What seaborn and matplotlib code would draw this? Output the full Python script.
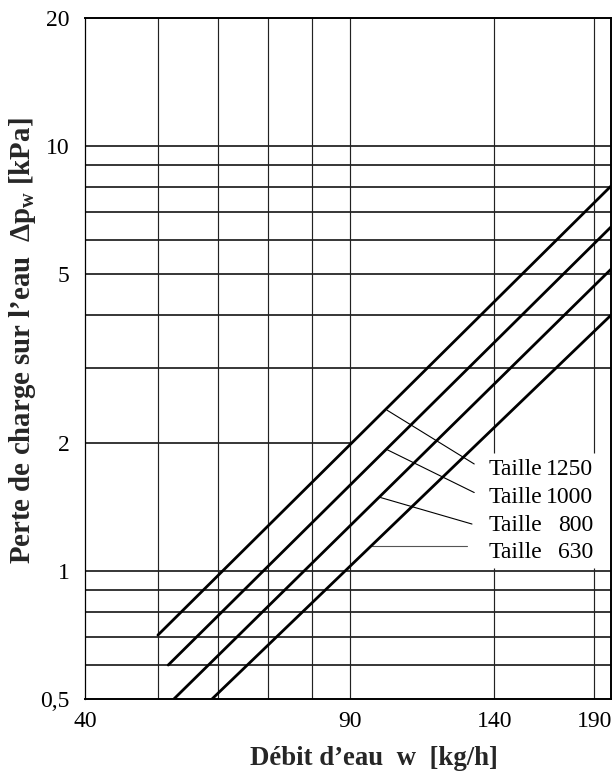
import numpy as np
import pandas as pd
import matplotlib
matplotlib.use("Agg")
import matplotlib.pyplot as plt
import seaborn as sns

# ---------------- data ----------------
sizes = ["Taille 1250", "Taille 1000", "Taille 800", "Taille 630"]
size_numbers = ["1250", "1000", "800", "630"]
w_start = [50.0, 51.6, 52.5, 59.0]
dp_start = [0.707, 0.601, 0.5, 0.5]
w_end = [200.0, 200.0, 200.0, 200.0]
dp_end = [8.05, 6.45, 5.13, 4.0]

# leader lines (from curve to label)
lead_w0 = [100.8, 100.8, 98.7, 96.3]
lead_dp0 = [2.39, 1.93, 1.49, 1.145]
lead_w1 = [131.6, 131.6, 130.7, 128.8]
lead_dp1 = [1.786, 1.53, 1.29, 1.145]
label_dp = [1.73, 1.486, 1.283, 1.103]

x_ticks = [40, 90, 140, 190]
x_ticklabels = ["40", "90", "140", "190"]
y_ticks = [0.5, 1, 2, 5, 10, 20]
y_ticklabels = ["0,5", "1", "2", "5", "10", "20"]

h_grid_full = [0.6, 0.7, 0.8, 0.9, 1, 3, 4, 5, 6, 7, 8, 9, 10]
h_grid_partial = [2]
v_grid_full = [50, 60, 70, 80, 90]
v_grid_gap = [140, 190]

df = pd.DataFrame({
    "size": sizes * 2,
    "w": w_start + w_end,
    "dp": dp_start + dp_end,
})

# ---------------- style ----------------
sns.set_theme(style="white")
plt.rcParams["font.family"] = ["Liberation Serif", "DejaVu Serif"]
plt.rcParams["mathtext.fontset"] = "custom"
plt.rcParams["mathtext.rm"] = "Liberation Serif:bold"
plt.rcParams["mathtext.it"] = "Liberation Serif:bold"
plt.rcParams["mathtext.bf"] = "Liberation Serif:bold"

fig = plt.figure(figsize=(6.12, 7.74), dpi=100)
ax = fig.add_axes([0.1389, 0.0969, 0.8595, 0.8798])
ax.set_xscale("log")
ax.set_yscale("log")
ax.set_xlim(40, 200)
ax.set_ylim(0.5, 20)

# grid
ax.hlines(h_grid_full, 40, 200, color="black", lw=1.1, zorder=1)
ax.hlines(h_grid_partial, 40, 90, color="black", lw=1.1, zorder=1)
ax.vlines(v_grid_full, 0.5, 20, color="#222222", lw=0.85, zorder=1)
ax.vlines(v_grid_gap, 0.5, 1.017, color="#222222", lw=0.85, zorder=1)
ax.vlines(v_grid_gap, 1.90, 20, color="#222222", lw=0.85, zorder=1)

# curves
sns.lineplot(data=df, x="w", y="dp", hue="size", hue_order=sizes,
             palette=["black"] * 4, linewidth=2.0, legend=False,
             estimator=None, sort=True, ax=ax, zorder=3)

# leader lines + labels
for i in range(4):
    ax.plot([lead_w0[i], lead_w1[i]], [lead_dp0[i], lead_dp1[i]],
            color="black" if i < 3 else "#555555", lw=0.8, zorder=2)
    ax.text(137.3, label_dp[i], "Taille", ha="left", va="center",
            fontsize=17, color="black")
    ax.text(189.5, label_dp[i], size_numbers[i], ha="right", va="center",
            fontsize=17, color="black")

# ticks
ax.xaxis.set_major_locator(matplotlib.ticker.FixedLocator(x_ticks))
ax.xaxis.set_major_formatter(matplotlib.ticker.FixedFormatter(x_ticklabels))
ax.xaxis.set_minor_locator(matplotlib.ticker.NullLocator())
ax.yaxis.set_major_locator(matplotlib.ticker.FixedLocator(y_ticks))
ax.yaxis.set_major_formatter(matplotlib.ticker.FixedFormatter(y_ticklabels))
ax.yaxis.set_minor_locator(matplotlib.ticker.NullLocator())
ax.tick_params(axis="both", length=0, labelsize=17, colors="black")
ax.tick_params(axis="x", pad=9)
ax.tick_params(axis="y", pad=11)

for s in ["top", "right", "bottom"]:
    ax.spines[s].set_color("black")
    ax.spines[s].set_linewidth(1.4)
ax.spines["left"].set_color("black")
ax.spines["left"].set_linewidth(0.9)

ax.set_xlabel("Débit d’eau  w  [kg/h]", fontsize=19.3, fontweight="bold")
ax.set_ylabel("Perte de charge sur l’eau  Δp$_{\\mathrm{w}}$ [kPa]",
              fontsize=20.8, fontweight="bold")
ax.xaxis.set_label_coords(0.55, -0.069)
ax.yaxis.set_label_coords(-0.09, 0.526)

fig.savefig("out.png", dpi=100)
